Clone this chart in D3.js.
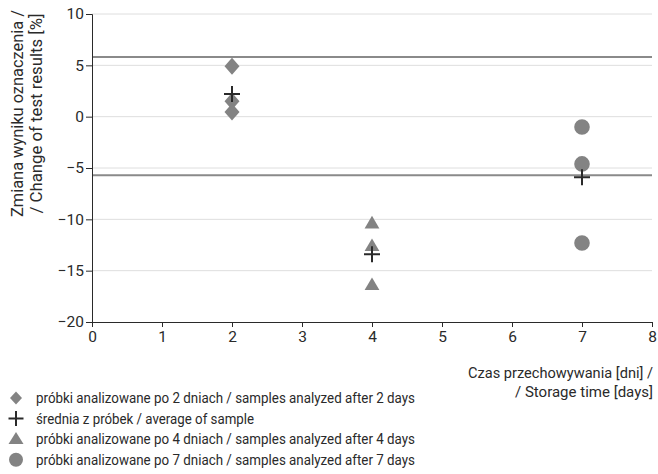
<!DOCTYPE html>
<html>
<head>
<meta charset="utf-8">
<script src="https://cdn.jsdelivr.net/npm/d3@7"></script>
<style>
  body { margin: 0; background: #fff; }
  svg { font-family: Roboto, "DejaVu Sans Condensed", sans-serif; }
</style>
</head>
<body>
<script>
// data
const days2 = [4.9, 1.5, 0.45]
const days4 = [-10.4, -12.6, -16.4]
const days7 = [-1.0, -4.6, -12.3]
const means = [{day: 2, value: 2.2}, {day: 4, value: -13.4}, {day: 7, value: -5.9}]
const limits = [5.8, -5.7]
const xTicks = [0, 1, 2, 3, 4, 5, 6, 7, 8]
const yTicks = [10, 5, 0, -5, -10, -15, -20]
const legendLabels = [
    'próbki analizowane po 2 dniach / samples analyzed after 2 days',
    'średnia z próbek / average of sample',
    'próbki analizowane po 4 dniach / samples analyzed after 4 days',
    'próbki analizowane po 7 dniach / samples analyzed after 7 days'
]
const xTitle = ['Czas przechowywania [dni] /', '/ Storage time [days]']
const yTitle = ['Zmiana wyniku oznaczenia /', '/ Change of test results [%]']

const width = 658, height = 474
const grey = '#838383'
const ink = '#2a2a2a'

const svg = d3.select('body').append('svg')
    .attr('width', width)
    .attr('height', height)

const x = d3.scaleLinear().domain([0, 8]).range([92, 652])
const y = d3.scaleLinear().domain([-20, 10]).range([322, 14])

// grid
svg.append('g')
    .selectAll('line')
    .data(yTicks.filter(d => d > -20))
    .join('line')
    .attr('x1', x(0)).attr('x2', x(8))
    .attr('y1', d => y(d)).attr('y2', d => y(d))
    .attr('stroke', '#dedede')
    .attr('stroke-width', 1)

// limit lines
svg.append('g')
    .selectAll('line')
    .data(limits)
    .join('line')
    .attr('x1', x(0)).attr('x2', x(8))
    .attr('y1', d => y(d)).attr('y2', d => y(d))
    .attr('stroke', '#8a8a8a')
    .attr('stroke-width', 2)

const yAxis = svg.append('g')
    .attr('transform', `translate(${x(0)},0)`)
    .call(d3.axisLeft(y).tickValues(yTicks).tickSize(6).tickPadding(2)
        .tickFormat(d => d < 0 ? '\u2212' + Math.abs(d) : d))
const xAxis = svg.append('g')
    .attr('transform', `translate(0,${y(-20)})`)
    .call(d3.axisBottom(x).tickValues(xTicks).tickSize(5).tickPadding(4))

for (const ax of [xAxis, yAxis]) {
    ax.select('.domain').attr('stroke', ink)
    ax.selectAll('.tick line').attr('stroke', ink)
    ax.selectAll('text').attr('font-size', 15.5).attr('fill', ink)
        .style('font-family', 'Roboto, sans-serif')
}

// marker shapes
const diamond = (w, h) => `M0,${-h}L${w},0L0,${h}L${-w},0Z`
const triangle = (w, h) => `M0,${-h * 0.6}L${w},${h * 0.4}L${-w},${h * 0.4}Z`
const circle = r => d3.arc()({innerRadius: 0, outerRadius: r, startAngle: 0, endAngle: 2 * Math.PI})
const plus = s => `M${-s},0H${s}M0,${-s}V${s}`

svg.append('g').selectAll('path').data(days2).join('path')
    .attr('d', diamond(7.5, 8.5))
    .attr('fill', grey)
    .attr('transform', d => `translate(${x(2)},${y(d)})`)
svg.append('g').selectAll('path').data(days4).join('path')
    .attr('d', triangle(7.4, 12.7))
    .attr('fill', grey)
    .attr('transform', d => `translate(${x(4)},${y(d)})`)
svg.append('g').selectAll('path').data(days7).join('path')
    .attr('d', circle(7.8))
    .attr('fill', grey)
    .attr('transform', d => `translate(${x(7)},${y(d)})`)
svg.append('g').selectAll('path').data(means).join('path')
    .attr('d', plus(8))
    .attr('stroke', ink)
    .attr('stroke-width', 2)
    .attr('fill', 'none')
    .attr('transform', d => `translate(${x(d.day)},${y(d.value)})`)

// axis titles
svg.append('g')
    .selectAll('text')
    .data(xTitle)
    .join('text')
    .attr('x', 653)
    .attr('y', (d, i) => 378 + i * 19)
    .attr('text-anchor', 'end')
    .attr('font-size', 15.5)
    .attr('fill', ink)
    .attr('textLength', (d, i) => [185, 138][i])
    .attr('lengthAdjust', 'spacingAndGlyphs')
    .text(d => d)

svg.append('g')
    .attr('transform', 'translate(23,113.5) rotate(-90)')
    .selectAll('text')
    .data(yTitle)
    .join('text')
    .attr('x', (d, i) => [-103.5, -100][i])
    .attr('y', (d, i) => i * 18.5)
    .attr('font-size', 16)
    .attr('fill', ink)
    .attr('textLength', (d, i) => [207, 200][i])
    .attr('lengthAdjust', 'spacingAndGlyphs')
    .text(d => d)

// legend
const legendMarks = [
    {d: diamond(6, 6.5), fill: grey},
    {d: plus(7.5), stroke: ink},
    {d: triangle(7.5, 12), fill: grey},
    {d: circle(7), fill: grey}
]
const rows = svg.append('g').selectAll('g').data(legendLabels).join('g')
    .attr('transform', (d, i) => `translate(16,${398 + i * 20.6})`)
rows.append('path')
    .attr('d', (d, i) => legendMarks[i].d)
    .attr('fill', (d, i) => legendMarks[i].fill || 'none')
    .attr('stroke', (d, i) => legendMarks[i].stroke || 'none')
    .attr('stroke-width', 2)
rows.append('text')
    .attr('x', 20)
    .attr('y', 5)
    .attr('font-size', 14)
    .attr('fill', ink)
    .attr('textLength', (d, i) => [379, 218, 379, 379][i])
    .attr('lengthAdjust', 'spacingAndGlyphs')
    .text(d => d)
</script>
</body>
</html>
